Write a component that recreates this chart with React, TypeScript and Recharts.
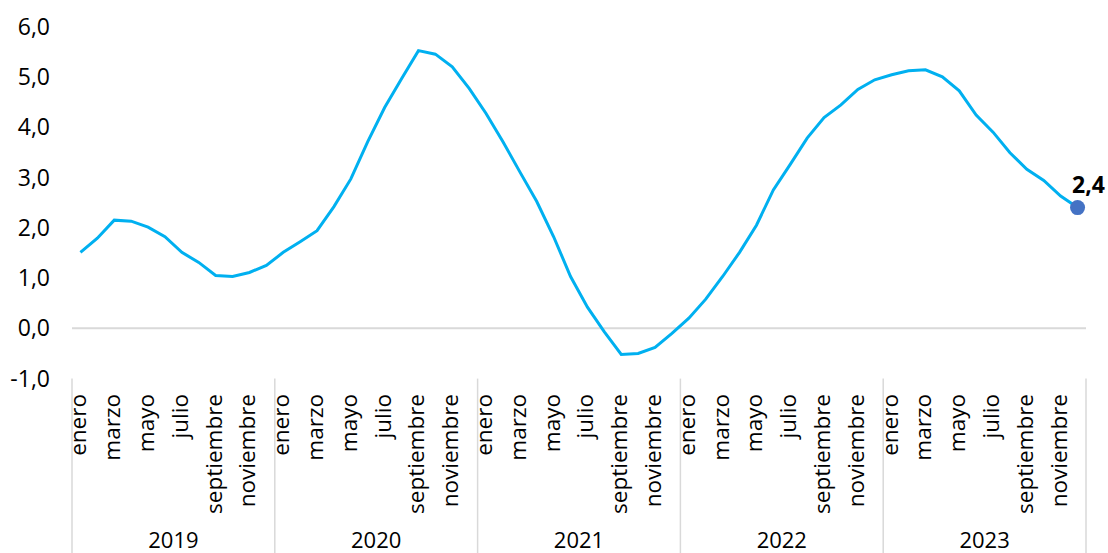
import React from 'react';
import { LineChart, Line, XAxis, YAxis, ReferenceLine } from 'recharts';

const years = ['2019', '2020', '2021', '2022', '2023'];
const months = [
  'enero', 'febrero', 'marzo', 'abril', 'mayo', 'junio',
  'julio', 'agosto', 'septiembre', 'octubre', 'noviembre', 'diciembre',
];
// variación anual, enero 2019 - diciembre 2023
const values = [
  1.51, 1.79, 2.15, 2.13, 2.01, 1.82, 1.51, 1.31, 1.05, 1.03, 1.11, 1.25,
  1.51, 1.72, 1.94, 2.42, 2.97, 3.71, 4.39, 4.96, 5.52, 5.45, 5.20, 4.77,
  4.27, 3.71, 3.11, 2.52, 1.82, 1.03, 0.42, -0.07, -0.52, -0.50, -0.38, -0.10,
  0.20, 0.58, 1.03, 1.51, 2.05, 2.75, 3.26, 3.78, 4.19, 4.44, 4.75, 4.94,
  5.04, 5.12, 5.14, 5.00, 4.72, 4.24, 3.90, 3.49, 3.16, 2.94, 2.63, 2.40,
];
const yTicks = [-1, 0, 1, 2, 3, 4, 5, 6];

const data = values.map((v, i) => ({
  key: `${months[i % 12]} ${years[Math.floor(i / 12)]}`,
  value: v,
}));

const W = 1108;
const H = 553;
const X_AXIS_H = 174.4;
const Y_AXIS_W = 72;
const M = { top: 26.5, right: 22, bottom: 0, left: 0 };
const PLOT_BOTTOM = H - X_AXIS_H;
const STEP = (W - M.right - Y_AXIS_W) / values.length;
const FONT = '"Open Sans", sans-serif';

const fmt = (v: number) => v.toFixed(1).replace('.', ',');

const MonthTick = (props: any) => {
  const { x, payload } = props;
  const i = props.index ?? payload.index;
  const m = i % 12;
  return (
    <g>
      {m === 0 && (
        <line x1={x - STEP / 2} x2={x - STEP / 2} y1={PLOT_BOTTOM} y2={H} stroke="#d9d9d9" strokeWidth={1.5} />
      )}
      {i === values.length - 1 && (
        <line x1={x + STEP / 2} x2={x + STEP / 2} y1={PLOT_BOTTOM} y2={H} stroke="#d9d9d9" strokeWidth={1.5} />
      )}
      {m % 2 === 0 && (
        <text
          x={x + 6}
          y={394}
          transform={`rotate(-90, ${x + 6}, 394)`}
          textAnchor="end"
          fontSize={22.5}
          fontFamily={FONT}
          fill="#000"
        >
          {months[m]}
        </text>
      )}
      {m === 5 && (
        <text x={x + STEP / 2} y={548} textAnchor="middle" fontSize={22} fontFamily={FONT} fill="#000">
          {years[Math.floor(i / 12)]}
        </text>
      )}
    </g>
  );
};

const LastDot = (props: any) => {
  const { cx, cy, index, value } = props;
  if (index !== values.length - 1) return <g key={`d-${index}`} />;
  return (
    <g key={`d-${index}`}>
      <circle cx={cx} cy={cy} r={7.5} fill="#4472c4" />
      <text x={cx + 11} y={cy - 15} textAnchor="middle" fontSize={23} fontWeight="bold" fontFamily={FONT} fill="#000">
        {fmt(value)}
      </text>
    </g>
  );
};

export default function App() {
  return (
    <div style={{ position: 'absolute', left: 0, top: 0, background: '#fff' }}>
      <LineChart width={W} height={H} data={data} margin={M}>
        <XAxis
          dataKey="key"
          interval={0}
          axisLine={false}
          tickLine={false}
          tickSize={0}
          padding={{ left: STEP / 2, right: STEP / 2 }}
          tick={<MonthTick />}
          height={X_AXIS_H}
        />
        <YAxis
          type="number"
          domain={[-1, 6]}
          ticks={yTicks}
          interval={0}
          width={Y_AXIS_W}
          axisLine={false}
          tickLine={false}
          tickSize={0}
          tickMargin={22}
          tickFormatter={fmt}
          tick={{ fill: '#000', fontSize: 23, fontFamily: FONT }}
        />
        <ReferenceLine y={0} stroke="#d9d9d9" strokeWidth={2} />
        <Line
          type="linear"
          dataKey="value"
          stroke="#00b0f0"
          strokeWidth={3}
          dot={LastDot}
          activeDot={false}
          isAnimationActive={false}
        />
      </LineChart>
    </div>
  );
}
